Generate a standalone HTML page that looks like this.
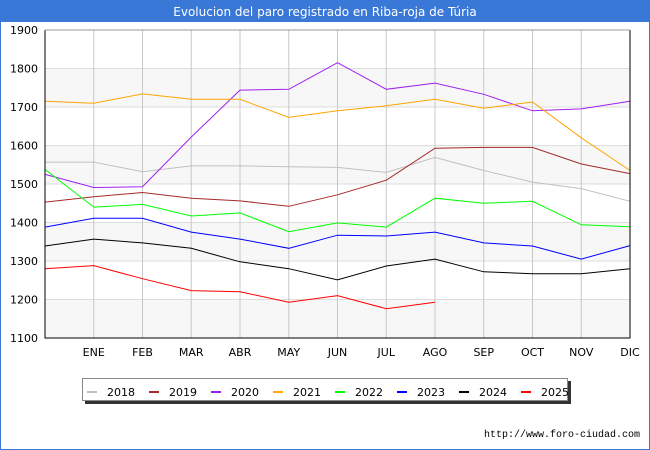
<!DOCTYPE html>
<html><head><meta charset="utf-8"><style>
body{margin:0;background:#fff;}
svg{display:block;font-family:"DejaVu Sans","Liberation Sans",sans-serif;}
</style></head><body>
<svg id="chart" width="650" height="450" viewBox="0 0 650 450" xmlns="http://www.w3.org/2000/svg">
<rect x="0.5" y="0.5" width="649" height="449" fill="#fff" stroke="#3a78d8"/>
<rect x="0" y="0" width="650" height="22" fill="#3a78d8"/>
<text x="325" y="16" text-anchor="middle" font-size="12" fill="#fff">Evolucion del paro registrado en Riba-roja de Túria</text>
<g id="plot"></g>
<g id="legend"></g>
<text x="640" y="437" text-anchor="end" font-size="10" font-family="Liberation Mono, monospace" fill="#000">http://www.foro-ciudad.com</text>
</svg>
<script>
const months = ["","ENE","FEB","MAR","ABR","MAY","JUN","JUL","AGO","SEP","OCT","NOV","DIC"];
const yTicks = [1100,1200,1300,1400,1500,1600,1700,1800,1900];
const years = ["2018","2019","2020","2021","2022","2023","2024","2025"];
const colors = ["#c0c0c0","#a52a2a","#a020f0","#ffa500","#00ff00","#0000ff","#000000","#ff0000"];
const s2018 = [1557,1557,1532,1547,1547,1545,1543,1530,1569,1535,1505,1488,1455];
const s2019 = [1453,1467,1478,1463,1456,1442,1472,1510,1593,1595,1595,1552,1527];
const s2020 = [1525,1491,1493,1622,1744,1746,1815,1746,1762,1733,1690,1695,1715];
const s2021 = [1715,1710,1734,1720,1720,1673,1690,1703,1720,1697,1713,1620,1535];
const s2022 = [1538,1440,1447,1417,1425,1376,1399,1388,1463,1450,1455,1394,1389];
const s2023 = [1388,1411,1411,1375,1357,1333,1367,1365,1375,1347,1339,1305,1340];
const s2024 = [1339,1357,1347,1333,1298,1280,1251,1287,1305,1272,1267,1267,1280];
const s2025 = [1280,1288,1254,1223,1220,1193,1210,1176,1193];
const series = [s2018,s2019,s2020,s2021,s2022,s2023,s2024,s2025];

const NS="http://www.w3.org/2000/svg";
const X0=45,X1=630,Y0=338,Y1=30,VMIN=1100,VMAX=1900;
const xPos=i=>X0+i*(X1-X0)/(months.length-1);
const yPos=v=>Y0-(v-VMIN)*(Y0-Y1)/(VMAX-VMIN);
function mk(tag,attrs,parent){const e=document.createElementNS(NS,tag);for(const k in attrs)e.setAttribute(k,attrs[k]);parent.appendChild(e);return e;}
const plot=document.getElementById('plot');
// bands
for(let i=0;i<yTicks.length-1;i++){
  if(i%2===0){
    const b=mk('rect',{x:X0,y:yPos(yTicks[i+1]),width:X1-X0,height:yPos(yTicks[i])-yPos(yTicks[i+1]),fill:"#f7f7f7"},plot);
    
    
  }
}
yTicks.forEach(t=>{
  const l=mk('line',{x1:X0,x2:X1,y1:yPos(t),y2:yPos(t),stroke:"#dddddd","stroke-width":1},plot);
  
  
  const tx=mk('text',{x:38,y:yPos(t)+4,"text-anchor":"end","font-size":11,fill:"#000"},plot);
  tx.textContent=t;
  
  
});
months.forEach((m,i)=>{
  if(i===0)return;
  const l=mk('line',{x1:xPos(i),x2:xPos(i),y1:Y1,y2:Y0,stroke:"#c8c8c8","stroke-width":1},plot);
  
  
  const tx=mk('text',{x:xPos(i),y:356,"text-anchor":"middle","font-size":11,fill:"#000"},plot);
  tx.textContent=m;
  
  
});
series.forEach((s,k)=>{
  const pts=s.map((v,i)=>xPos(i).toFixed(1)+","+yPos(v).toFixed(1)).join(" ");
  const p=mk('polyline',{points:pts,fill:"none",stroke:colors[k],"stroke-width":1},plot);
  
  
});
const fr=mk('path',{d:`M${X0},${Y1} V${Y0} H${X1} V${Y1}`,fill:"none",stroke:"#000","stroke-width":1},plot);


const fr2=mk('line',{x1:X0,x2:X1,y1:Y1,y2:Y1,stroke:"#999","stroke-width":1},plot);


// legend
const lg=document.getElementById('legend');
const sh=mk('rect',{x:85,y:381,width:486,height:23,fill:"#333"},lg);


const box=mk('rect',{x:82.5,y:378.5,width:485,height:22,fill:"#fff",stroke:"#888"},lg);


years.forEach((y,k)=>{
  const x=87+k*62;
  const g=mk('g',{},lg);
  
  
  mk('line',{x1:x,x2:x+10,y1:392,y2:392,stroke:colors[k],"stroke-width":2},g);
  const t=mk('text',{x:x+20,y:396,"font-size":11,fill:"#000"},g);
  t.textContent=y;
});
</script>
</body></html>
